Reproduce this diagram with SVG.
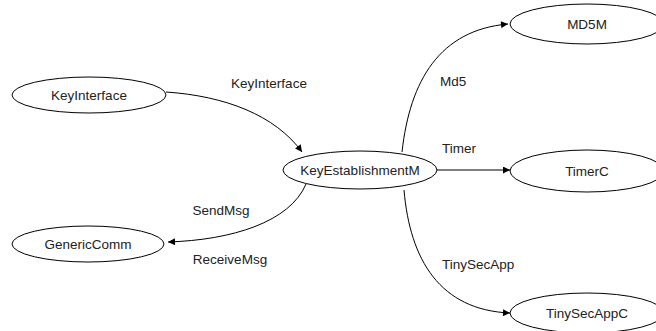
<svg xmlns="http://www.w3.org/2000/svg" width="656" height="331" viewBox="0 0 656 331">
  <defs>
    <marker id="arrow" viewBox="0 0 10 10" refX="10" refY="5" markerWidth="9" markerHeight="7" markerUnits="userSpaceOnUse" orient="auto">
      <path d="M0,0 L10,5 L0,10 z" fill="#000"/>
    </marker>
  </defs>
  <style>
    .node ellipse { fill: #fff; stroke: #000; stroke-width: 1; }
    text { font-family: "Liberation Sans", Arial, sans-serif; font-size: 13.5px; fill: #222; }
    .node text { text-anchor: middle; }
    .edge { fill: none; stroke: #000; stroke-width: 1; marker-end: url(#arrow); }
  </style>
  <rect width="656" height="331" fill="#fff"/>

  <g id="connectors">
    <path class="edge" d="M166,92 C225,96 275,115 302,152"/>
    <path class="edge" d="M306,184 C290,222 232,240 168,242"/>
    <path class="edge" d="M402,152 C410,80 440,30 508,24"/>
    <path class="edge" d="M437,170 L510,170"/>
    <path class="edge" d="M404,190 C410,260 440,310 510,313"/>
    <text x="269" y="88" text-anchor="middle">KeyInterface</text>
    <text x="221" y="215" text-anchor="middle">SendMsg</text>
    <text x="230" y="264" text-anchor="middle">ReceiveMsg</text>
    <text x="440" y="86">Md5</text>
    <text x="442" y="153">Timer</text>
    <text x="442" y="269">TinySecApp</text>
  </g>

  <g id="KeyInterface" class="node">
    <ellipse cx="89" cy="95" rx="77" ry="18"/>
    <text x="89" y="100">KeyInterface</text>
  </g>
  <g id="GenericComm" class="node">
    <ellipse cx="88" cy="244" rx="76" ry="18"/>
    <text x="88" y="249">GenericComm</text>
  </g>
  <g id="KeyEstablishmentM" class="node">
    <ellipse cx="360" cy="170" rx="77" ry="19"/>
    <text x="360" y="175">KeyEstablishmentM</text>
  </g>
  <g id="MD5M" class="node">
    <ellipse cx="587" cy="24" rx="77" ry="20"/>
    <text x="587" y="29">MD5M</text>
  </g>
  <g id="TimerC" class="node">
    <ellipse cx="587" cy="171" rx="77" ry="21"/>
    <text x="587" y="176">TimerC</text>
  </g>
  <g id="TinySecAppC" class="node">
    <ellipse cx="587" cy="313" rx="77" ry="20"/>
    <text x="587" y="318">TinySecAppC</text>
  </g>
</svg>
